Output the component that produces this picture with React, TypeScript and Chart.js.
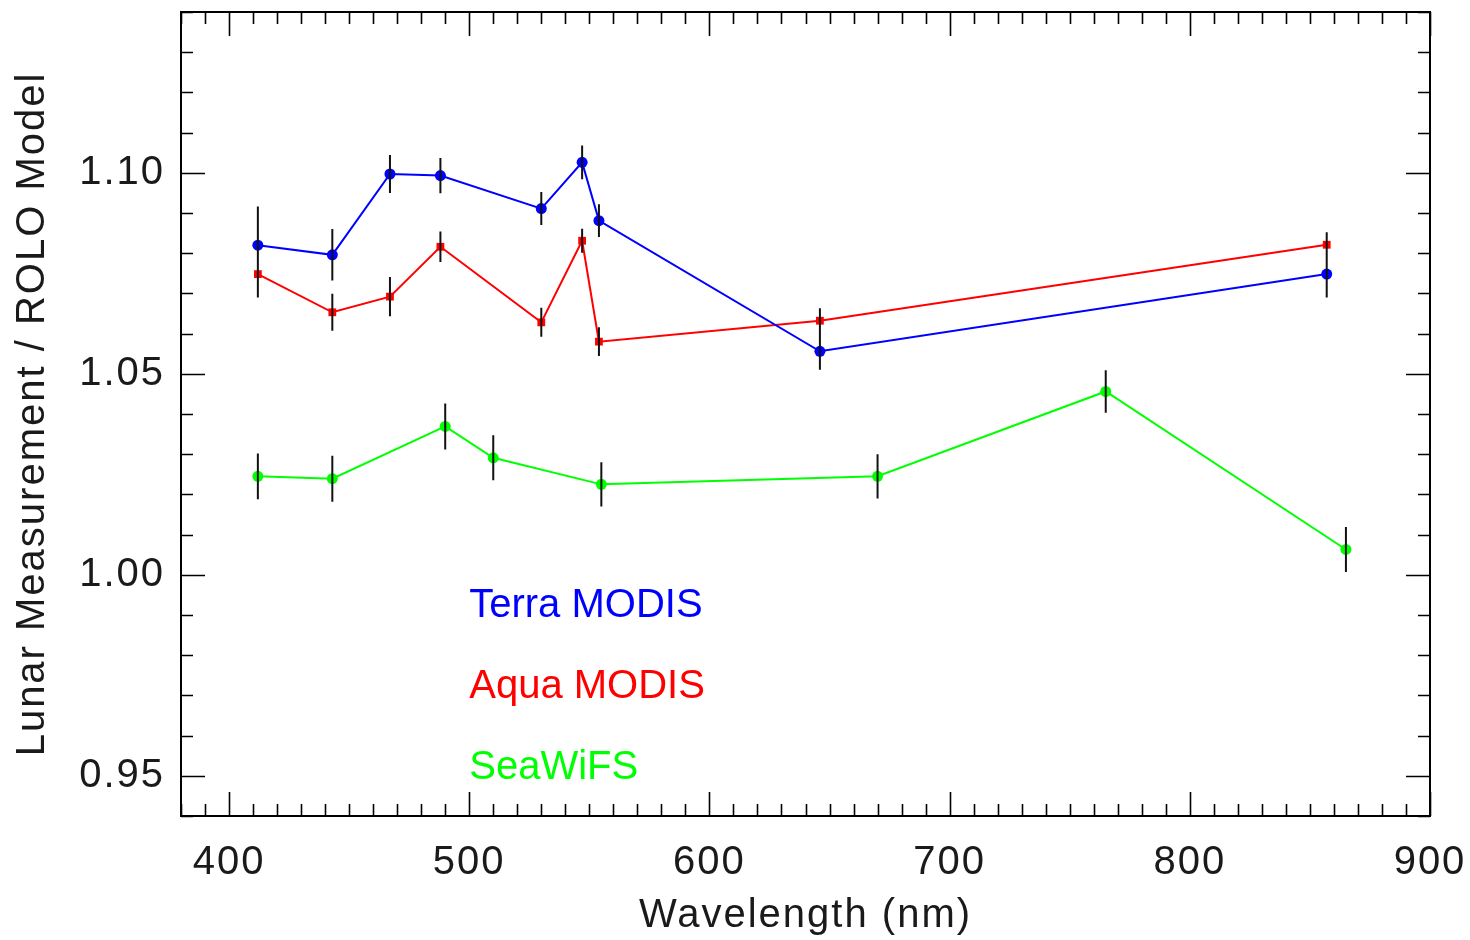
import React, { useEffect, useRef } from "react";
import { Chart, registerables } from "chart.js";

Chart.register(...registerables);

// ---- Data ----
const modisWavelengths = [412, 443, 467, 488, 530, 547, 554, 646, 857];
const terraValues = [1.082, 1.0796, 1.0997, 1.0993, 1.0911, 1.1026, 1.0881, 1.0556, 1.0748];
const terraErrors = [0.0096, 0.0064, 0.0047, 0.0044, 0.0041, 0.0042, 0.0041, 0.0046, 0.0058];
const aquaValues = [1.0748, 1.0653, 1.0692, 1.0816, 1.0628, 1.0831, 1.058, 1.0632, 1.0821];
const aquaErrors = [0.0058, 0.0046, 0.0049, 0.0038, 0.0036, 0.003, 0.0036, 0.0031, 0.0031];
const seawifsWavelengths = [412, 443, 490, 510, 555, 670, 765, 865];
const seawifsValues = [1.0245, 1.0239, 1.0369, 1.0291, 1.0225, 1.0245, 1.0456, 1.0063];
const seawifsErrors = [0.0057, 0.0057, 0.0057, 0.0056, 0.0055, 0.0055, 0.0053, 0.0056];

const xTickValues = [400, 500, 600, 700, 800, 900];
const yTickValues = [0.95, 1.0, 1.05, 1.1];

const seriesLabels = ["Terra MODIS", "Aqua MODIS", "SeaWiFS"];
const seriesColors = ["#0000ff", "#ff0000", "#00ff00"];
const xTitle = "Wavelength (nm)";
const yTitle = "Lunar Measurement / ROLO Model";

const FONT_FAMILY = "'Liberation Sans', Arial, sans-serif";
const TEXT_COLOR = "#1a1a1a";

const toPoints = (xs: number[], ys: number[]) => xs.map((x, i) => ({ x, y: ys[i] }));

const errorSets = [
  { xs: modisWavelengths, ys: terraValues, errs: terraErrors },
  { xs: modisWavelengths, ys: aquaValues, errs: aquaErrors },
  { xs: seawifsWavelengths, ys: seawifsValues, errs: seawifsErrors },
];

const spacingPlugin = {
  id: "letterSpacing",
  beforeDraw(chart: any) {
    (chart.ctx as any).letterSpacing = "2px";
  },
  afterDraw(chart: any) {
    (chart.ctx as any).letterSpacing = "0px";
  },
};

const framePlugin = {
  id: "frameTicks",
  afterDraw(chart: any) {
    const { ctx, chartArea: a, scales } = chart;
    const x = scales.x;
    const y = scales.y;
    ctx.save();
    ctx.strokeStyle = "#000";
    ctx.lineWidth = 2;
    ctx.strokeRect(a.left, a.top, a.right - a.left, a.bottom - a.top);
    ctx.lineWidth = 1.6;
    ctx.beginPath();
    for (let v = 380; v <= 900; v += 10) {
      const px = Math.round(x.getPixelForValue(v)) + 0.5;
      const len = v % 100 === 0 ? 24 : 12;
      ctx.moveTo(px, a.bottom);
      ctx.lineTo(px, a.bottom - len);
      ctx.moveTo(px, a.top);
      ctx.lineTo(px, a.top + len);
    }
    for (let i = 94; i <= 114; i++) {
      const py = Math.round(y.getPixelForValue(i / 100)) + 0.5;
      const len = i % 5 === 0 ? 24 : 12;
      ctx.moveTo(a.left, py);
      ctx.lineTo(a.left + len, py);
      ctx.moveTo(a.right, py);
      ctx.lineTo(a.right - len, py);
    }
    ctx.stroke();

    // series labels
    ctx.font = `40px ${FONT_FAMILY}`;
    (ctx as any).letterSpacing = "0px";
    ctx.textAlign = "left";
    ctx.textBaseline = "alphabetic";
    const baseX = x.getPixelForValue(500);
    seriesLabels.forEach((t, i) => {
      ctx.fillStyle = seriesColors[i];
      ctx.fillText(t, baseX, a.top + 605 + i * 81);
    });
    ctx.restore();
  },
};

const errorBarPlugin = {
  id: "errorBars",
  afterDatasetsDraw(chart: any) {
    const { ctx, scales } = chart;
    const x = scales.x;
    const y = scales.y;
    ctx.save();
    ctx.strokeStyle = "#111";
    ctx.lineWidth = 2;
    ctx.beginPath();
    errorSets.forEach((s) => {
      s.xs.forEach((xv, i) => {
        const px = x.getPixelForValue(xv);
        ctx.moveTo(px, y.getPixelForValue(s.ys[i] + s.errs[i]));
        ctx.lineTo(px, y.getPixelForValue(s.ys[i] - s.errs[i]));
      });
    });
    ctx.stroke();
    ctx.restore();
  },
};

export default function App() {
  const ref = useRef<HTMLCanvasElement>(null);
  useEffect(() => {
    document.body.style.margin = "0";
    const canvas = ref.current;
    if (!canvas) return;
    const font = { family: FONT_FAMILY, size: 40, lineHeight: 1.2 };
    const ds = (i: number, data: any[], style: string) => ({
      label: seriesLabels[i],
      data,
      borderColor: seriesColors[i],
      backgroundColor: seriesColors[i],
      borderWidth: 2,
      pointRadius: 5.5,
      pointStyle: style,
      pointBorderWidth: 0,
    });
    const chart = new Chart(canvas, {
      type: "line",
      data: {
        datasets: [
          ds(0, toPoints(modisWavelengths, terraValues), "circle"),
          ds(1, toPoints(modisWavelengths, aquaValues), "rect"),
          ds(2, toPoints(seawifsWavelengths, seawifsValues), "circle"),
        ],
      },
      options: {
        responsive: false,
        animation: false,
        devicePixelRatio: 1,
        layout: { padding: { top: 12, right: 40, left: 0, bottom: 0 } },
        plugins: {
          legend: { display: false },
          tooltip: { enabled: false },
        },
        scales: {
          x: {
            type: "linear",
            min: 380,
            max: 900,
            grid: { display: false, drawTicks: false },
            border: { display: false },
            afterBuildTicks: (s: any) => {
              s.ticks = xTickValues.map((value) => ({ value }));
            },
            ticks: {
              padding: 23,
              font,
              color: TEXT_COLOR,
              maxRotation: 0,
              autoSkip: false,
              callback: (v: any) => String(v),
            },
            title: {
              display: true,
              text: xTitle,
              font,
              color: TEXT_COLOR,
              padding: { top: 0, bottom: 0 },
            },
            afterFit: (s: any) => {
              s.height = 124;
              s.paddingLeft = 0;
              s.paddingRight = 0;
            },
          },
          y: {
            type: "linear",
            min: 0.94,
            max: 1.14,
            grid: { display: false, drawTicks: false },
            border: { display: false },
            afterBuildTicks: (s: any) => {
              s.ticks = yTickValues.map((value) => ({ value }));
            },
            ticks: {
              padding: 16,
              font,
              color: TEXT_COLOR,
              autoSkip: false,
              callback: (v: any) => Number(v).toFixed(2),
            },
            title: {
              display: true,
              text: yTitle,
              font,
              color: TEXT_COLOR,
              padding: { top: 9, bottom: 0 },
            },
            afterFit: (s: any) => {
              s.width = 181;
              s.paddingTop = 0;
              s.paddingBottom = 0;
            },
          },
        },
      },
      plugins: [spacingPlugin, errorBarPlugin, framePlugin],
    } as any);
    return () => chart.destroy();
  }, []);
  return <canvas ref={ref} width={1470} height={940} style={{ display: "block" }} />;
}
